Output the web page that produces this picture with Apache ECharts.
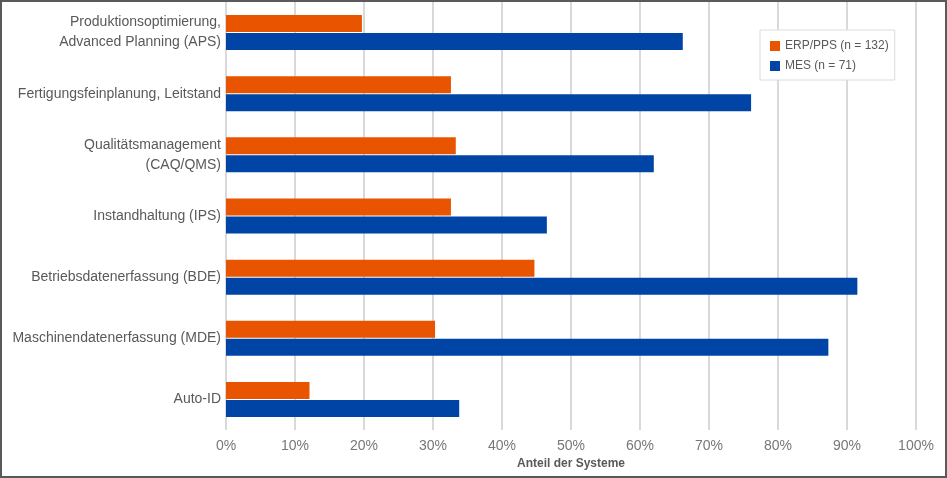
<!DOCTYPE html>
<html>
<head>
<meta charset="UTF-8">
<style>
html, body { margin: 0; padding: 0; background: #fff; }
#main { width: 947px; height: 478px; box-sizing: border-box; border: 2px solid #595959; }
</style>
</head>
<body>
<div id="main"></div>
<script src="https://cdn.jsdelivr.net/npm/echarts@6/dist/echarts.min.js"></script>
<script type="text/javascript">
// Kategorien von oben nach unten
var categories = [
	'Produktionsoptimierung,\nAdvanced Planning (APS)',
	'Fertigungsfeinplanung, Leitstand',
	'Qualitätsmanagement\n(CAQ/QMS)',
	'Instandhaltung (IPS)',
	'Betriebsdatenerfassung (BDE)',
	'Maschinendatenerfassung (MDE)',
	'Auto-ID'
];
var erpValues = [19.7, 32.6, 33.3, 32.6, 44.7, 30.3, 12.1];
var mesValues = [66.2, 76.1, 62.0, 46.5, 91.5, 87.3, 33.8];
var seriesNames = ['ERP/PPS (n = 132)', 'MES (n = 71)'];
var xTicks = [0, 10, 20, 30, 40, 50, 60, 70, 80, 90, 100];

var myChart = echarts.init(document.getElementById('main'));

var option = {
	animation: false,
	textStyle: { fontFamily: 'Liberation Sans, Arial, sans-serif' },
	grid: { left: 224, right: 29, top: -2, bottom: 46 },
	legend: {
		orient: 'vertical',
		left: 758,
		top: 28,
		padding: [10, 6, 8, 10],
		itemGap: 8,
		itemWidth: 10,
		itemHeight: 10,
		icon: 'rect',
		borderColor: '#dcdcdc',
		borderWidth: 1,
		backgroundColor: '#fff',
		textStyle: { fontSize: 12, color: '#595959' },
		data: seriesNames
	},
	xAxis: {
		type: 'value',
		min: xTicks[0],
		max: xTicks[xTicks.length - 1],
		interval: 10,
		name: 'Anteil der Systeme',
		nameLocation: 'middle',
		nameGap: 28,
		nameTextStyle: { fontSize: 12, fontWeight: 'bold', color: '#595959' },
		axisLine: { show: false },
		axisTick: { show: false },
		axisLabel: { fontSize: 14, color: '#777', margin: 9, formatter: '{value}%' },
		splitLine: { show: true, lineStyle: { color: '#d9d9d9', width: 2 } }
	},
	yAxis: {
		type: 'category',
		inverse: true,
		data: categories,
		axisLine: { show: false },
		axisTick: { show: false },
		axisLabel: { fontSize: 14, color: '#595959', margin: 5, lineHeight: 20 }
	},
	series: [
		{
			name: seriesNames[0],
			type: 'bar',
			data: erpValues,
			barWidth: 17,
			barGap: '6%',
			itemStyle: { color: '#e85400' }
		},
		{
			name: seriesNames[1],
			type: 'bar',
			data: mesValues,
			barWidth: 17,
			barGap: '6%',
			itemStyle: { color: '#0044a6' }
		}
	]
};

myChart.setOption(option);
</script>
</body>
</html>
